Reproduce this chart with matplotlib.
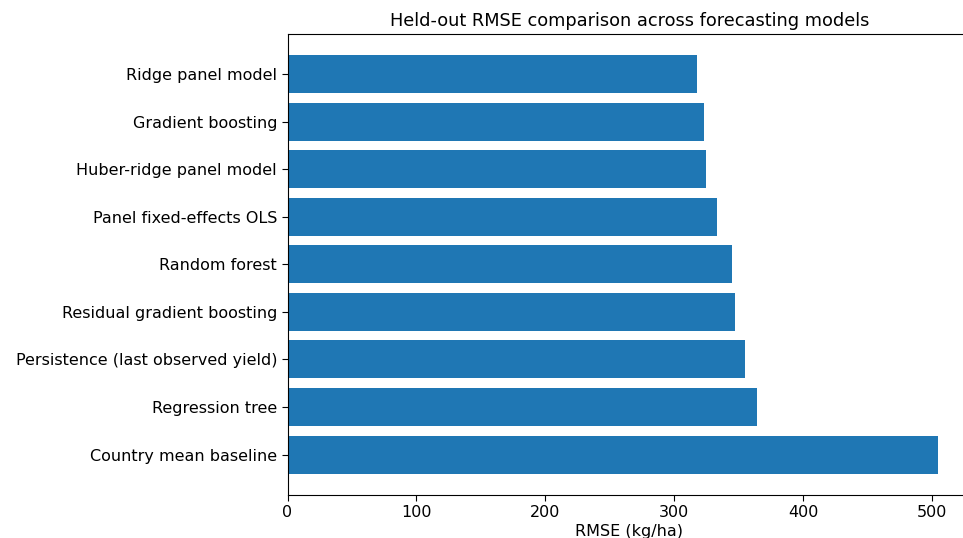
import matplotlib
matplotlib.use("Agg")
import matplotlib.pyplot as plt

models = [
    "Country mean baseline",
    "Regression tree",
    "Persistence (last observed yield)",
    "Residual gradient boosting",
    "Random forest",
    "Panel fixed-effects OLS",
    "Huber-ridge panel model",
    "Gradient boosting",
    "Ridge panel model",
]
rmse = [505, 364, 355, 347, 345, 333, 325, 323, 318]

DPI = 100
W, H = 963, 538
fig = plt.figure(figsize=(W / DPI, H / DPI), dpi=DPI)
left, right, top, bottom = 287.5, 971, 34, 494.5
ax = fig.add_axes([left / W, (H - bottom) / H, (right - left) / W, (bottom - top) / H])

ax.barh(models, rmse, color="#1f77b4")
ax.set_xlabel("RMSE (kg/ha)", fontsize=11.5, labelpad=3)
ax.set_title("Held-out RMSE comparison across forecasting models", fontsize=12.8, pad=6)
ax.tick_params(labelsize=11.5, length=4)

fig.savefig("out.png", dpi=DPI)
